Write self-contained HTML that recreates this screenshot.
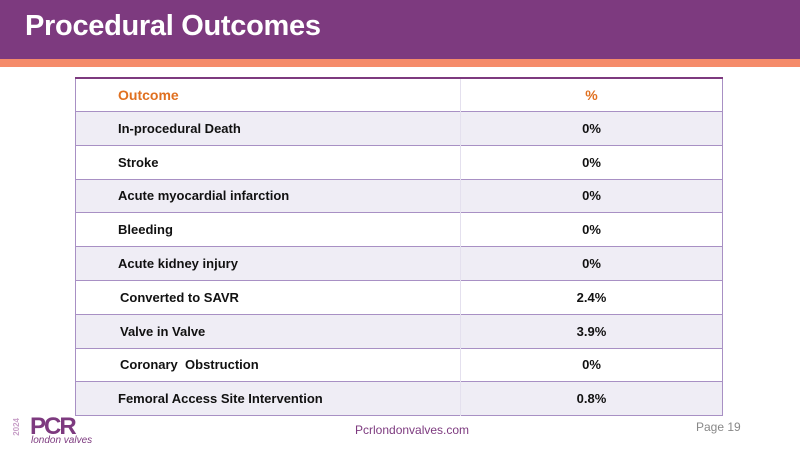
<!DOCTYPE html>
<html><head><meta charset="utf-8"><style>
body{margin:0;width:800px;height:450px;background:#fff;position:relative;overflow:hidden;font-family:"Liberation Sans",sans-serif}
.hdr{position:absolute;left:0;top:0;width:800px;height:59px;background:#7d3a7f}
.stripe{position:absolute;left:0;top:59px;width:800px;height:8px;background:#f58b6a}
.title{position:absolute;left:25px;top:10px;color:#fff;font-weight:bold;font-size:29px;letter-spacing:-0.3px}
table{position:absolute;left:75px;top:77px;width:648px;border-collapse:collapse;font-size:13px;font-weight:bold;color:#111}
td{height:32.8px;border-top:1.5px solid #a890c4;padding:0}
td.a{padding-left:42px;width:340px}
td.b{text-align:center;border-left:1px solid #e4e0ee}
tr.h td{height:32px;color:#e07020;font-size:14px;border-top:2px solid #7d3a7f}
tr.o td{background:#efedf5}
table{border-left:1.5px solid #a890c4;border-right:1.5px solid #a890c4;border-bottom:1.5px solid #a890c4}
.foot{position:absolute;top:423px;left:355px;font-size:12px;color:#7d3a7f}
.page{position:absolute;top:420px;left:696px;font-size:12px;color:#888}
.logo{position:absolute;left:30px;top:413px;color:#7d3a7f;font-weight:bold;font-size:24px;letter-spacing:-2px}
.lv{position:absolute;left:31px;top:435px;color:#7d3a7f;font-style:italic;font-size:10px}
.yr{position:absolute;left:12px;top:418px;color:#c8a0c8;font-size:8px;font-weight:bold;writing-mode:vertical-rl;transform:rotate(180deg)}
</style></head><body>
<div class="hdr"></div>
<div class="stripe"></div>
<div class="title">Procedural Outcomes</div>
<table>
<tr class="h"><td class="a">Outcome</td><td class="b">%</td></tr>
<tr class="o"><td class="a">In-procedural Death</td><td class="b">0%</td></tr>
<tr><td class="a">Stroke</td><td class="b">0%</td></tr>
<tr class="o"><td class="a">Acute myocardial infarction</td><td class="b">0%</td></tr>
<tr><td class="a">Bleeding</td><td class="b">0%</td></tr>
<tr class="o"><td class="a">Acute kidney injury</td><td class="b">0%</td></tr>
<tr><td class="a" style="padding-left:44px">Converted to SAVR</td><td class="b">2.4%</td></tr>
<tr class="o"><td class="a" style="padding-left:44px">Valve in Valve</td><td class="b">3.9%</td></tr>
<tr><td class="a" style="padding-left:44px">Coronary&nbsp; Obstruction</td><td class="b">0%</td></tr>
<tr class="o"><td class="a">Femoral Access Site Intervention</td><td class="b">0.8%</td></tr>
</table>
<div class="yr">2024</div>
<div class="logo">PCR</div>
<div class="lv">london valves</div>
<div class="foot">Pcrlondonvalves.com</div>
<div class="page">Page 19</div>
</body></html>
